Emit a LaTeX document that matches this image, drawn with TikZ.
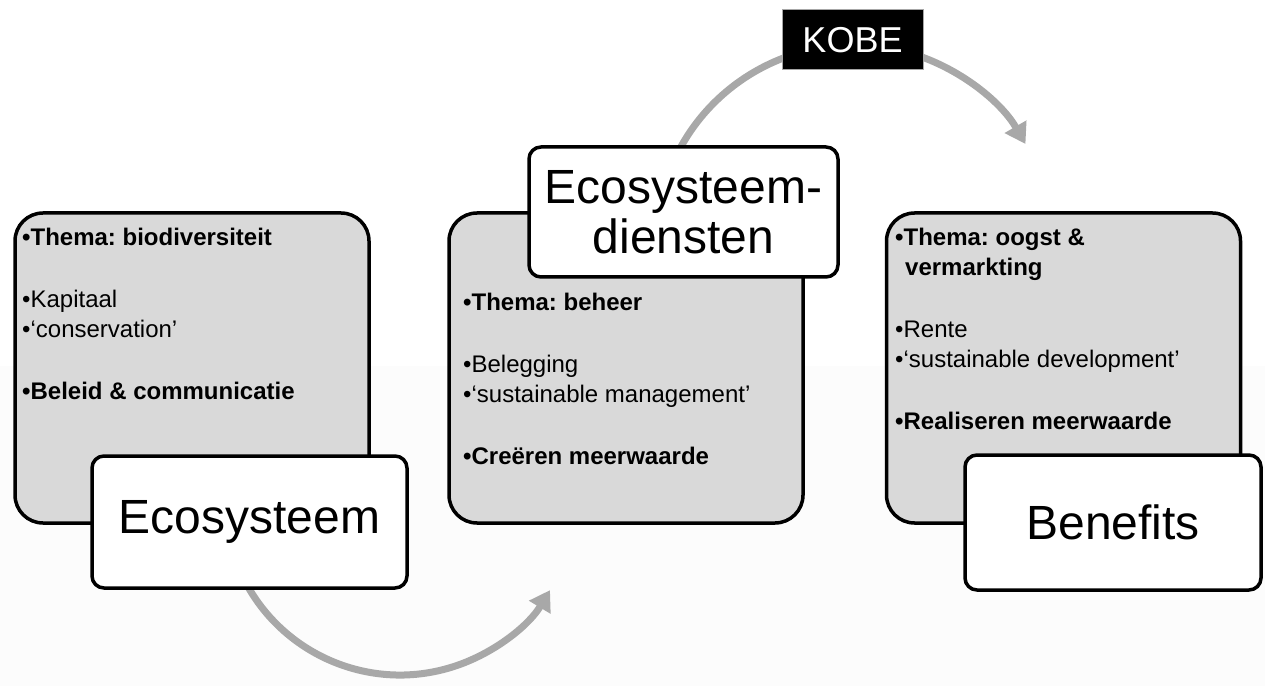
\documentclass[tikz,border=0pt]{standalone}
\usepackage{fontspec}
\setmainfont{Liberation Sans}
\frenchspacing
\usetikzlibrary{arrows.meta}
\definecolor{boxgray}{RGB}{217,217,217}
\definecolor{arcgray}{RGB}{168,168,168}
\definecolor{bgfaint}{RGB}{252,252,252}
\tikzset{
  graybox/.style={draw=black, line width=3.5pt, fill=boxgray, rounded corners=28pt,
    minimum width=354pt, minimum height=310pt, inner sep=0pt},
  whitebox/.style={draw=black, line width=3.5pt, fill=white, rounded corners=12pt,
    inner sep=0pt, align=center, font=\fontsize{48}{50}\selectfont},
  bodytext/.style={anchor=north west, inner sep=0pt, align=left,
    font=\frenchspacing\fontsize{24}{30}\selectfont},
  cyclearrow/.style={draw=arcgray, line width=7pt, -{Triangle[width=24pt,length=20pt]}},
  kobebox/.style={fill=black, draw=gray!70, line width=1pt, text=white,
    font=\fontsize{36}{36}\selectfont, minimum width=141pt, minimum height=60pt, inner sep=0pt}
}
\begin{document}
\begin{tikzpicture}[x=1pt,y=1pt]
\useasboundingbox (0,0) rectangle (1265,686);
\fill[bgfaint] (0,0) rectangle (1265,320);

% cycle arrows
\coordinate (topc) at (854,443);
\coordinate (topstart) at ([shift={(160:198pt)}]topc);
\draw[cyclearrow] (topstart) arc[start angle=160, end angle=30, radius=198pt];
\coordinate (botc) at (400,186);
\coordinate (botstart) at ([shift={(-160:175pt)}]botc);
\draw[cyclearrow] (botstart) arc[start angle=-160, end angle=-31, radius=175pt];

% gray boxes
\node[graybox] (gl) at (192,318) {};
\node[graybox] (gm) at (626,318) {};
\node[graybox] (gr) at (1063.5,318) {};

\node[bodytext] (tl) at (22,458.5) {{\bfseries •Thema: biodiversiteit}\\[32pt]
  •Kapitaal\\
  •‘conservation’\\[32pt]
  {\bfseries •Beleid \& communicatie}};
\node[bodytext] (tm) at (463,393.5) {{\bfseries •Thema: beheer}\\[32pt]
  •Belegging\\
  •‘sustainable management’\\[32pt]
  {\bfseries •Creëren meerwaarde}};
\node[bodytext] (tr) at (895,458.5) {{\bfseries •Thema: oogst \&}\\
  {\bfseries\hspace{10pt}vermarkting}\\[32pt]
  •Rente\\
  •‘sustainable development’\\[32pt]
  {\bfseries •Realiseren meerwaarde}};

% white title boxes
\node[whitebox, minimum width=315pt, minimum height=132pt] (eco) at (249.5,164) {Ecosysteem};
\node[whitebox, minimum width=309pt, minimum height=130pt] (dien) at (683.5,474) {Ecosysteem-\\diensten};
\node[whitebox, minimum width=296pt, minimum height=135pt] (ben) at (1113,163.5) {Benefits};

% KOBE label
\node[kobebox] (kobe) at (852.5,646) {KOBE};
\end{tikzpicture}
\end{document}
